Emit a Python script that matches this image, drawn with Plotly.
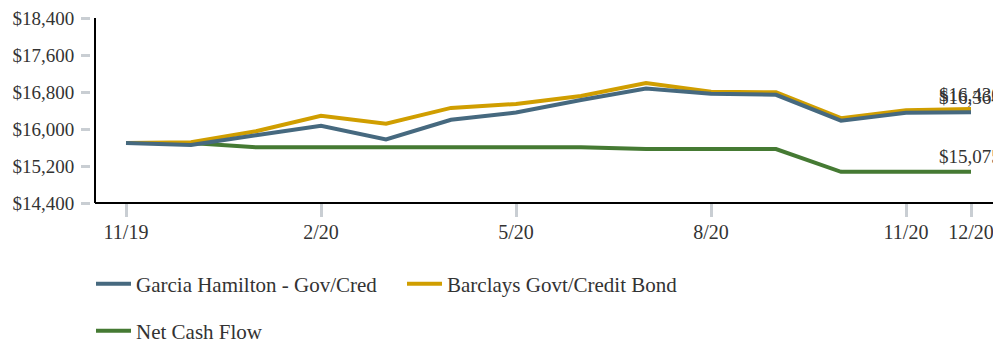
import plotly.graph_objects as go

months = ["11/19", "12/19", "1/20", "2/20", "3/20", "4/20", "5/20", "6/20",
          "7/20", "8/20", "9/20", "10/20", "11/20", "12/20"]
garcia = [15700, 15652, 15865, 16072, 15774, 16200, 16356, 16627,
          16874, 16761, 16740, 16179, 16350, 16364]
barclays = [15700, 15716, 15951, 16286, 16115, 16456, 16542, 16712,
            16996, 16804, 16793, 16234, 16405, 16430]
netcash = [15700, 15700, 15603, 15603, 15603, 15603, 15603, 15603,
           15567, 15567, 15567, 15075, 15075, 15075]
tick_months = ["11/19", "2/20", "5/20", "8/20", "11/20", "12/20"]
y_ticks = [14400, 15200, 16000, 16800, 17600, 18400]

BLUE = "#46697f"
GOLD = "#d09e00"
GREEN = "#457a33"
FONT = "Liberation Serif"
TXT = "#333333"

W, H = 993, 335  # page body has an 8px margin

xi = list(range(len(months)))
tick_idx = [months.index(m) for m in tick_months]

fig = go.Figure()
fig.add_trace(go.Scatter(x=xi, y=netcash, mode="lines", name="Net Cash Flow",
                         line=dict(color=GREEN, width=4), legend="legend2"))
fig.add_trace(go.Scatter(x=xi, y=barclays, mode="lines", name="Barclays Govt/Credit Bond",
                         line=dict(color=GOLD, width=4), legend="legend"))
fig.add_trace(go.Scatter(x=xi, y=garcia, mode="lines", name="Garcia Hamilton - Gov/Cred",
                         line=dict(color=BLUE, width=4), legend="legend"))

# end labels
for series in (barclays, garcia, netcash):
    fig.add_annotation(x=xi[-1], y=series[-1], text=f"${series[-1]:,}", showarrow=False,
                       yshift=15, xshift=-1, xanchor="center", yanchor="middle",
                       font=dict(family=FONT, size=19, color=TXT))

L = 83
plot_w = W - L
lo = -35 / 65
hi = lo + plot_w / 65

fig.update_layout(
    width=W, height=H,
    margin=dict(l=L, r=0, t=7, b=140),
    paper_bgcolor="white", plot_bgcolor="white",
    font=dict(family=FONT, size=20, color=TXT),
    xaxis=dict(range=[lo, hi], tickmode="array", tickvals=tick_idx, ticktext=tick_months,
               showgrid=False, zeroline=False, showline=False,
               ticks="outside", ticklen=13, tickwidth=3, tickcolor="#c9ced3",
               ticklabelstandoff=-2, ticklabeloverflow="allow",
               tickfont=dict(family=FONT, size=20, color=TXT)),
    yaxis=dict(range=[14400, 18400], tickmode="array", tickvals=y_ticks,
               ticktext=[f"${v:,}" for v in y_ticks],
               showgrid=False, zeroline=False, showline=False,
               ticks="outside", ticklen=9, tickwidth=3, tickcolor="#c9ced3",
               ticklabelstandoff=3, ticklabeloverflow="allow",
               tickfont=dict(family=FONT, size=19, color=TXT)),
    legend=dict(orientation="h", x=83 / W, y=(H - 276) / H, xref="container", yref="container",
                xanchor="left", yanchor="middle", entrywidth=261, entrywidthmode="pixels",
                traceorder="reversed", itemwidth=35,
                font=dict(family=FONT, size=21, color=TXT), bgcolor="rgba(0,0,0,0)"),
    legend2=dict(orientation="h", x=83 / W, y=(H - 323) / H, xref="container", yref="container",
                 xanchor="left", yanchor="middle", itemwidth=35,
                 font=dict(family=FONT, size=21, color=TXT), bgcolor="rgba(0,0,0,0)"),
    showlegend=True,
)

# axis lines (y axis sits 4px right of the tick marks)
off = 4 / plot_w
fig.add_shape(type="line", xref="x domain", yref="y domain", x0=off, x1=off, y0=0, y1=1,
              line=dict(color="black", width=2), layer="above")
fig.add_shape(type="line", xref="x domain", yref="y domain", x0=off, x1=1, y0=0, y1=0,
              line=dict(color="black", width=2), layer="above")

fig.write_html("out.html")
